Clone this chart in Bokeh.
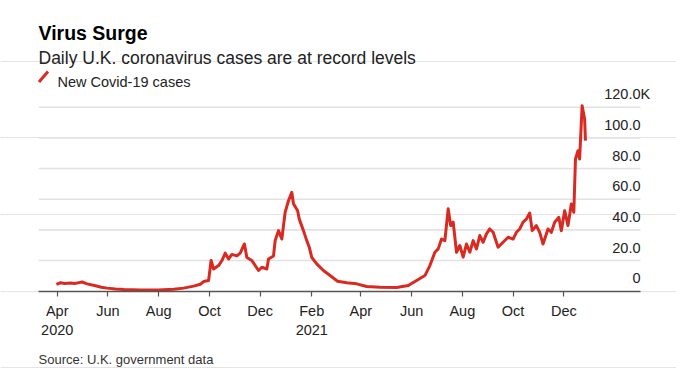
from datetime import datetime
from bokeh.plotting import figure
from bokeh.core.properties import value
from bokeh.models import (ColumnDataSource, FixedTicker, LabelSet, Label,
                          Arrow, Range1d)
from bokeh.embed import file_html
from bokeh.resources import INLINE

# ---- data (thousands of new cases) ----
dates = ["2020-03-31", "2020-04-05", "2020-04-10", "2020-04-17", "2020-04-22",
         "2020-04-27", "2020-05-01", "2020-05-07", "2020-05-17", "2020-05-24",
         "2020-05-31", "2020-06-10", "2020-06-20", "2020-07-10", "2020-08-01",
         "2020-08-19", "2020-08-31", "2020-09-12", "2020-09-20", "2020-09-24",
         "2020-09-30", "2020-10-03", "2020-10-06", "2020-10-12", "2020-10-16",
         "2020-10-20", "2020-10-24", "2020-10-28", "2020-11-03", "2020-11-07",
         "2020-11-12", "2020-11-15", "2020-11-21", "2020-11-29", "2020-12-03",
         "2020-12-09", "2020-12-11", "2020-12-17", "2020-12-19", "2020-12-23",
         "2020-12-27", "2020-12-31", "2021-01-04", "2021-01-08", "2021-01-10",
         "2021-01-15", "2021-01-17", "2021-01-22", "2021-01-26", "2021-01-29",
         "2021-02-01", "2021-02-07", "2021-02-15", "2021-02-23", "2021-03-04",
         "2021-03-15", "2021-03-27", "2021-04-08", "2021-04-24", "2021-05-14",
         "2021-05-28", "2021-06-07", "2021-06-17", "2021-06-23", "2021-06-29",
         "2021-07-03", "2021-07-07", "2021-07-11", "2021-07-15", "2021-07-18",
         "2021-07-21", "2021-07-25", "2021-07-29", "2021-08-02", "2021-08-06",
         "2021-08-10", "2021-08-14", "2021-08-18", "2021-08-22", "2021-08-26",
         "2021-08-30", "2021-09-03", "2021-09-07", "2021-09-13", "2021-09-19",
         "2021-09-25", "2021-10-01", "2021-10-05", "2021-10-09", "2021-10-13",
         "2021-10-17", "2021-10-21", "2021-10-24", "2021-10-29", "2021-11-02",
         "2021-11-06", "2021-11-12", "2021-11-16", "2021-11-20", "2021-11-25",
         "2021-11-28", "2021-12-02", "2021-12-06", "2021-12-10", "2021-12-13",
         "2021-12-15", "2021-12-18", "2021-12-20", "2021-12-23", "2021-12-26",
         "2021-12-27"]
cases_k = [4.5, 5.5, 5.0, 5.4, 5.0,
           5.6, 6.0, 4.8, 3.5, 2.6,
           2.0, 1.4, 1.1, 0.8, 0.8,
           1.3, 2.0, 3.3, 4.5, 6.3,
           7.0, 20.0, 14.5, 16.7, 20.0,
           24.8, 21.0, 24.0, 23.0, 24.8,
           30.8, 22.0, 20.0, 13.5, 15.6,
           14.5, 21.0, 23.0, 33.0, 39.5,
           34.0, 51.5, 59.0, 64.5, 57.0,
           52.5, 47.0, 39.5, 33.0, 28.7,
           22.0, 17.8, 13.5, 10.2, 6.5,
           5.5, 4.8, 3.1, 2.6, 2.4,
           3.7, 7.0, 10.2, 16.7, 25.4,
           27.6, 34.0, 33.0, 53.7, 42.8,
           45.0, 25.4, 29.8, 22.2, 30.8,
           25.4, 33.0, 27.6, 36.3, 31.9,
           37.4, 40.6, 38.4, 28.7, 31.9,
           35.2, 34.0, 38.4, 40.6, 45.0,
           47.0, 51.0, 39.5, 42.8, 38.4,
           30.8, 40.6, 38.4, 45.0, 48.2,
           39.5, 52.5, 42.8, 56.9, 51.5,
           86.2, 91.6, 86.2, 121.0, 112.3,
           98.2]

x_tick_dates = ["2020-04-01", "2020-06-01", "2020-08-01", "2020-10-01", "2020-12-01",
                "2021-02-01", "2021-04-01", "2021-06-01", "2021-08-01", "2021-10-01",
                "2021-12-01"]
x_tick_labels = ["Apr\n2020", "Jun", "Aug", "Oct", "Dec",
                 "Feb\n2021", "Apr", "Jun", "Aug", "Oct", "Dec"]
y_ticks = [0, 20, 40, 60, 80, 100, 120]
y_tick_labels = ["0", "20.0", "40.0", "60.0", "80.0", "100.0", "120.0"]
y_unit = "K"

title = "Virus Surge"
subtitle = "Daily U.K. coronavirus cases are at record levels"
legend_label = "New Covid-19 cases"
source_note = "Source: U.K. government data"

# ---- helpers / layout ----
DAY = 86400000.0
EPOCH = datetime(1970, 1, 1)
def ms(s):
    return (datetime.strptime(s, "%Y-%m-%d") - EPOCH).total_seconds() * 1000.0

W, H = 676, 374
PX_PER_DAY = 0.8319
PX_PER_K = 1.5333
APR_X = 56.7          # canvas x of 1 Apr 2020
ZERO_Y = 290.7        # canvas y (from top) of zero line
AX_L, AX_R = 38.3, 640.0

ref = ms("2020-04-01")
def xdata(px):
    return ref + (px - APR_X) / PX_PER_DAY * DAY

x_start, x_end = xdata(0), xdata(W)
y_start = -(H - ZERO_Y) / PX_PER_K
y_end = ZERO_Y / PX_PER_K
ax_left, ax_right = xdata(AX_L), xdata(AX_R)

FONT = "Liberation Sans"
RED = "#d92a22"
LBL = "14.5px"

p = figure(width=W, height=H, x_axis_type="datetime", y_axis_location=None,
           output_backend="svg", toolbar_location=None,
           x_range=Range1d(x_start, x_end), y_range=Range1d(y_start, y_end),
           min_border=0, min_border_left=0, min_border_right=0,
           min_border_top=0, min_border_bottom=0)
p.outline_line_color = None
p.background_fill_color = "white"
p.border_fill_color = "white"
p.xgrid.visible = False

# horizontal gridlines at the y ticks, spanning the axis extent
gl = y_ticks[1:]
p.segment(x0=[ax_left] * len(gl), x1=[ax_right] * len(gl), y0=gl, y1=gl,
          line_color="#e2e2e2", line_width=1.6)

src = ColumnDataSource(dict(x=[ms(d) for d in dates], y=cases_k))
p.line("x", "y", source=src, line_color=RED, line_width=3, line_join="round")

ax = p.xaxis[0]
ax.fixed_location = 0
ax.bounds = (ax_left, ax_right)
ax.ticker = FixedTicker(ticks=[ms(d) for d in x_tick_dates])
ax.major_label_overrides = {ms(d): l for d, l in zip(x_tick_dates, x_tick_labels)}
ax.minor_tick_line_color = None
ax.axis_line_color = "#555555"
ax.axis_line_width = 1.4
ax.major_tick_line_color = "#555555"
ax.major_tick_line_width = 1.2
ax.major_tick_in = 0
ax.major_tick_out = 5
ax.major_label_standoff = 7
ax.major_label_text_font = FONT
ax.major_label_text_font_size = LBL
ax.major_label_text_color = "#222222"

ysrc = ColumnDataSource(dict(x=[ax_right] * len(y_ticks), y=y_ticks, t=y_tick_labels))
p.add_layout(LabelSet(x="x", y="y", text="t", source=ysrc, text_align="right",
                      text_baseline="alphabetic", y_offset=8,
                      text_font=value(FONT), text_font_size=value(LBL),
                      text_color="#222222"))
usrc = ColumnDataSource(dict(x=[ax_right], y=[y_ticks[-1]], t=[y_unit]))
p.add_layout(LabelSet(x="x", y="y", text="t", source=usrc, text_align="left",
                      text_baseline="alphabetic", y_offset=8,
                      text_font=value(FONT), text_font_size=value(LBL),
                      text_color="#222222"))

def hdr(text, x, y_from_top, size, style="normal", color="#111111"):
    p.add_layout(Label(x=x, y=H - y_from_top, x_units="screen", y_units="screen",
                       text=text, text_font=FONT, text_font_size=size,
                       text_font_style=style, text_color=color,
                       text_baseline="alphabetic", text_align="left"))

hdr(title, 38, 32.3, "19.5px", "bold", "#000000")
hdr(subtitle, 38, 57.3, "17.5px", "normal", "#222222")
hdr(legend_label, 57, 81.7, "14.5px", "normal", "#222222")
hdr(source_note, 38, 359, "13px", "normal", "#333333")

p.add_layout(Arrow(end=None, x_start=38.5, y_start=H - 81.5, x_end=47.5, y_end=H - 71,
                   start_units="screen", end_units="screen",
                   line_color=RED, line_width=3))

open("out.html", "w").write(file_html(p, INLINE))
